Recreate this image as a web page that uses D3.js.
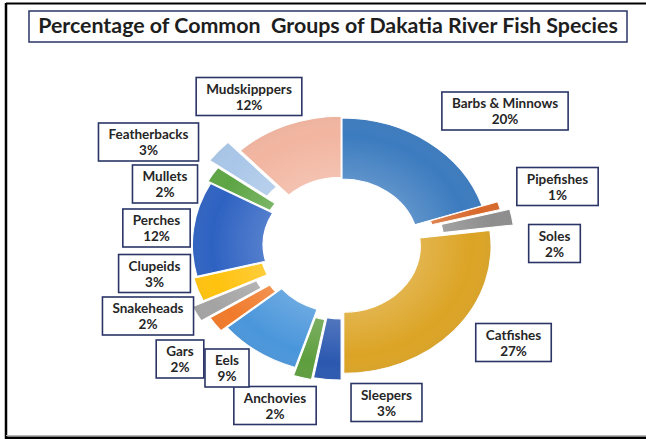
<!DOCTYPE html>
<html>
<head>
<meta charset="utf-8">
<script src="https://cdn.jsdelivr.net/npm/d3@7"></script>
<style>
  html, body { margin: 0; padding: 0; background: #fff; }
  svg { display: block; }
  text { font-family: Lato, "Open Sans", sans-serif; font-weight: 700; }
</style>
</head>
<body>
<svg id="chart" width="646" height="439"></svg>
<script>
// Fish groups recorded in the Dakatia River and their share (%)
const groups = ["Barbs & Minnows", "Pipefishes", "Soles", "Catfishes", "Sleepers",
  "Anchovies", "Eels", "Gars", "Snakeheads", "Clupeids", "Perches", "Mullets",
  "Featherbacks", "Mudskipppers"];
const shares = [20, 1, 2, 27, 3, 2, 9, 2, 2, 3, 12, 2, 3, 12];

// slice fills
const fills = ["#3b7bbf", "#d8682a", "#8d8d8d", "#dca425", "#2b58b0", "#5e9e3e",
  "#4a96db", "#f07a2a", "#a3a3a3", "#ffc20e", "#2e62c2", "#5da544", "#a9c6e8", "#f2b5a0"];

// how far each slice is pulled out of the ring (px)
const pullOut = [0, 14, 22, 2, 8, 10, 2, 8, 16, 5, 2, 5, 15, 2];

// label box centres (manually placed callouts)
const labelAt = [[505, 111], [557.5, 186.5], [554.5, 243.5], [513.5, 342.5], [386.5, 402.5],
  [275, 405.5], [227, 368], [180, 359], [148, 316], [154.5, 273.5], [156.5, 228],
  [165, 184], [148.5, 142], [249, 96.5]];

const titleText = "Percentage of Common  Groups of Dakatia River Fish Species";

const svg = d3.select("#chart");
const W = 646, H = 439;

// frame lines
svg.append("rect").attr("x", 0).attr("y", 0).attr("width", W).attr("height", H).attr("fill", "#fff");
svg.append("line").attr("x1", 6).attr("x2", W).attr("y1", 3.5).attr("y2", 3.5)
  .attr("stroke", "#000").attr("stroke-width", 2);
svg.append("line").attr("x1", 6).attr("x2", 6).attr("y1", 3).attr("y2", H)
  .attr("stroke", "#000").attr("stroke-width", 2.5);
svg.append("line").attr("x1", 6).attr("x2", W).attr("y1", 435.5).attr("y2", 435.5)
  .attr("stroke", "#b8b8b8").attr("stroke-width", 1);
svg.append("rect").attr("x", 5).attr("y", 436.5).attr("width", W).attr("height", 3).attr("fill", "#000");

// title box
const title = svg.append("g");
title.append("rect").attr("x", 29).attr("y", 11).attr("width", 598).attr("height", 31)
  .attr("fill", "#fff").attr("stroke", "#2a3566").attr("stroke-width", 1.5);
const tt = title.append("text").attr("x", 328).attr("y", 33).attr("text-anchor", "middle")
  .attr("fill", "#1e1e1e").style("font-size", "18px").style("white-space", "pre").text(titleText);
const tw = tt.node().getComputedTextLength();
tt.style("font-size", (18 * 580 / tw).toFixed(2) + "px");

// donut
const cx = 342, cy = 245, rOuter = 127, rInner = 66, stretch = 1.16;
const pie = d3.pie().sort(null).value(d => d)(shares);
const arc = d3.arc().innerRadius(rInner).outerRadius(rOuter);

const defs = svg.append("defs");
const shade = defs.append("radialGradient").attr("id", "shade")
  .attr("gradientUnits", "userSpaceOnUse").attr("cx", 0).attr("cy", 0).attr("r", rOuter + 20);
shade.append("stop").attr("offset", 0.45).attr("stop-color", "#fff").attr("stop-opacity", 0.18);
shade.append("stop").attr("offset", 0.75).attr("stop-color", "#fff").attr("stop-opacity", 0.0);
shade.append("stop").attr("offset", 1).attr("stop-color", "#000").attr("stop-opacity", 0.12);

const ring = svg.append("g")
  .attr("transform", `translate(${cx},${cy}) scale(${stretch},1)`);

const slices = ring.selectAll("g.slice").data(pie).join("g")
  .attr("class", "slice")
  .attr("transform", (d, i) => {
    const a = (d.startAngle + d.endAngle) / 2;
    return `translate(${Math.sin(a) * pullOut[i]},${-Math.cos(a) * pullOut[i]})`;
  });
slices.append("path").attr("d", arc).attr("fill", (d, i) => fills[i])
  .attr("stroke", "#fff").attr("stroke-width", 1);
slices.append("path").attr("d", arc).attr("fill", "url(#shade)");

// callout labels
const labels = svg.append("g").selectAll("g").data(groups).join("g")
  .attr("transform", (d, i) => `translate(${labelAt[i][0]},${labelAt[i][1]})`);
const box = labels.append("rect").attr("fill", "#fff").attr("stroke", "#2a3566").attr("stroke-width", 1.6);
const line1 = labels.append("text").attr("text-anchor", "middle").attr("y", -3)
  .attr("fill", "#262626").style("font-size", "13.5px").text(d => d);
labels.append("text").attr("text-anchor", "middle").attr("y", 13)
  .attr("fill", "#262626").style("font-size", "13.5px").text((d, i) => shares[i] + "%");
line1.each(function (d, i) {
  const w = Math.max(this.getComputedTextLength(), 24) + 20;
  d3.select(box.nodes()[i]).attr("x", -w / 2).attr("y", -19).attr("width", w).attr("height", 38);
});
</script>
</body>
</html>
